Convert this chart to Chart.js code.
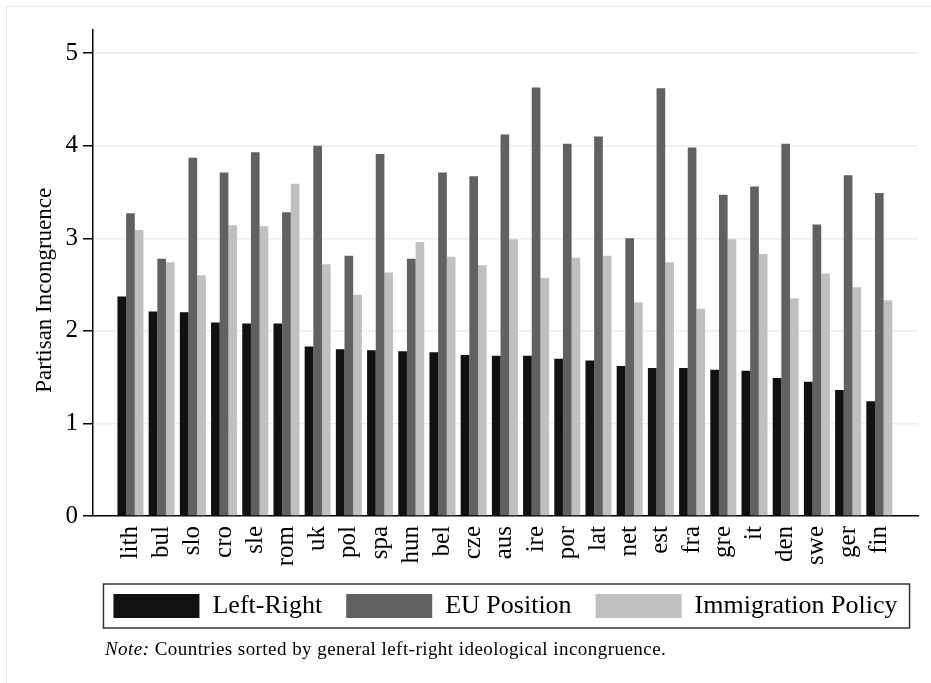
<!DOCTYPE html>
<html>
<head>
<meta charset="utf-8">
<script src="https://cdn.jsdelivr.net/npm/chart.js@4.4.1/dist/chart.umd.min.js"></script>
<style>
  html, body { margin: 0; padding: 0; background: #fff; }
  body { width: 931px; height: 683px; position: relative; overflow: hidden; }
  #frame { position: absolute; left: 6px; top: 6px; width: 1000px; height: 1000px; border: 1px solid #e3eaee; }
  #chart { position: absolute; left: 0; top: 0; }
  #note { position: absolute; left: 105px; top: 638px; font: 19px "Liberation Serif", serif; letter-spacing: 0.45px; color: #000; white-space: nowrap; }
</style>
</head>
<body>
<div id="frame"></div>
<canvas id="chart" width="931" height="683"></canvas>
<div id="note"><i>Note:</i> Countries sorted by general left-right ideological incongruence.</div>
<script>
const countries = ["lith", "bul", "slo", "cro", "sle", "rom", "uk", "pol", "spa", "hun", "bel", "cze", "aus",
    "ire", "por", "lat", "net", "est", "fra", "gre", "it", "den", "swe", "ger", "fin"];

const leftRight = [2.37, 2.21, 2.20, 2.09, 2.08, 2.08, 1.83, 1.80, 1.79, 1.78, 1.77, 1.74, 1.73,
    1.73, 1.70, 1.68, 1.62, 1.60, 1.60, 1.58, 1.57, 1.49, 1.45, 1.36, 1.24];
const euPosition = [3.27, 2.78, 3.87, 3.71, 3.93, 3.28, 4.00, 2.81, 3.91, 2.78, 3.71, 3.67, 4.12,
    4.63, 4.02, 4.10, 3.00, 4.62, 3.98, 3.47, 3.56, 4.02, 3.15, 3.68, 3.49];
const immigration = [3.09, 2.74, 2.60, 3.14, 3.13, 3.59, 2.72, 2.39, 2.63, 2.96, 2.80, 2.71, 2.99,
    2.57, 2.79, 2.81, 2.31, 2.74, 2.24, 2.99, 2.83, 2.35, 2.62, 2.47, 2.33];

const yTicks = [0, 1, 2, 3, 4, 5];

const serif = '"Liberation Serif", "Times New Roman", serif';

function toPoints(values) {
    return values.map((v, i) => ({ x: i, y: v }));
}

// centre the legend under the plot area and draw a frame round it
const legendFrame = {
    id: "legendFrame",
    afterLayout(chart) {
        const lg = chart.legend;
        const w = lg.right - lg.left;
        const mid = (chart.chartArea.left + chart.chartArea.right) / 2;
        lg.left = mid - w / 2;
        lg.right = mid + w / 2;
    },
    afterDraw(chart) {
        const boxes = chart.legend.legendHitBoxes;
        if (!boxes || !boxes.length) return;
        const left = Math.min(...boxes.map(b => b.left)) - 10;
        const right = Math.max(...boxes.map(b => b.left + b.width)) + 12;
        const top = boxes[0].top - 9;
        const bottom = boxes[0].top + boxes[0].height + 9;
        const ctx = chart.ctx;
        ctx.save();
        ctx.strokeStyle = "#333";
        ctx.lineWidth = 1.5;
        ctx.strokeRect(left, top, right - left, bottom - top);
        ctx.restore();
    }
};

new Chart(document.getElementById("chart"), {
    type: "bar",
    data: {
        datasets: [
            { label: "Left-Right", data: toPoints(leftRight), backgroundColor: "#111111" },
            { label: "EU Position", data: toPoints(euPosition), backgroundColor: "#616161" },
            { label: "Immigration Policy", data: toPoints(immigration), backgroundColor: "#c0c0c0" }
        ]
    },
    options: {
        responsive: false,
        animation: false,
        categoryPercentage: 0.833,
        barPercentage: 1,
        layout: { padding: { top: 30, right: 13, left: 0, bottom: 54 } },
        scales: {
            x: {
                type: "linear",
                min: -1.2,
                max: 25.24,
                offset: false,
                afterBuildTicks: axis => { axis.ticks = countries.map((c, i) => ({ value: i })); },
                afterFit: axis => { axis.height = 53; },
                grid: { display: false, drawTicks: false },
                border: { color: "#000", width: 1.5 },
                ticks: {
                    autoSkip: false,
                    minRotation: 90,
                    maxRotation: 90,
                    padding: 10,
                    color: "#000",
                    font: { family: serif, size: 25 },
                    callback: v => countries[v]
                }
            },
            y: {
                min: 0,
                max: 5.25,
                afterBuildTicks: axis => { axis.ticks = yTicks.map(v => ({ value: v })); },
                afterFit: axis => { axis.width = 93; },
                grid: {
                    color: c => (c.tick && c.tick.value === 0) ? "rgba(0,0,0,0)" : "#e8eef1",
                    lineWidth: 1.5,
                    tickLength: 10,
                    tickColor: "#000",
                    tickWidth: 1.5
                },
                border: { color: "#000", width: 1.5 },
                ticks: {
                    padding: 5,
                    color: "#000",
                    font: { family: serif, size: 25 }
                },
                title: {
                    display: true,
                    // trailing spaces push the label down to centre it on the 0-5 range
                    text: "Partisan Incongruence      ",
                    color: "#000",
                    font: { family: serif, size: 23 },
                    padding: { top: 31 }
                }
            }
        },
        plugins: {
            legend: {
                position: "bottom",
                labels: {
                    boxWidth: 86,
                    boxHeight: 24,
                    padding: 24,
                    color: "#000",
                    font: { family: serif, size: 26 }
                }
            },
            tooltip: { enabled: false }
        }
    },
    plugins: [legendFrame]
});
</script>
</body>
</html>
